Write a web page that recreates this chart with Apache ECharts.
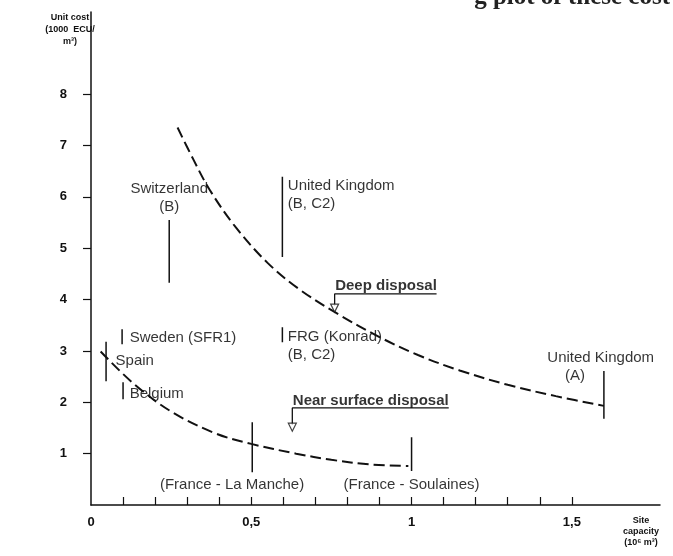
<!DOCTYPE html>
<html>
<head>
<meta charset="utf-8">
<script src="https://cdn.jsdelivr.net/npm/echarts@6/dist/echarts.min.js"></script>
<style>
html,body{margin:0;padding:0;background:#fff;}
#chart{width:673px;height:556px;}
</style>
</head>
<body>
<div id="chart"></div>
<script>
// ---- data ----
const xTickValues = [0.1,0.2,0.3,0.4,0.5,0.6,0.7,0.8,0.9,1.0,1.1,1.2,1.3,1.4,1.5];
const xLabelValues = [0, 0.5, 1, 1.5];
const yTickValues = [1,2,3,4,5,6,7,8];

const deepX = [0.27, 0.32, 0.37, 0.45, 0.55, 0.65, 0.77, 0.90, 1.02, 1.15, 1.30, 1.45, 1.60];
const deepY = [7.35, 6.72, 6.14, 5.42, 4.72, 4.20, 3.72, 3.27, 2.92, 2.62, 2.34, 2.12, 1.93];

const nearX = [0.03, 0.13, 0.25, 0.39, 0.50, 0.64, 0.75, 0.87, 0.99];
const nearY = [2.99, 2.38, 1.82, 1.39, 1.19, 1.00, 0.88, 0.79, 0.76];

const barX    = [0.244, 0.597, 0.597, 0.097, 0.047, 0.100, 0.503, 1.000, 1.600];
const barLow  = [4.33, 4.83, 3.17, 3.13, 2.41, 2.06, 0.64, 0.66, 1.68];
const barHigh = [5.55, 6.39, 3.46, 3.42, 3.18, 2.39, 1.61, 1.32, 2.61];

const leftLabelText = ['United Kingdom', '(B, C2)', 'FRG (Konrad)', '(B, C2)', 'Sweden (SFR1)', 'Spain', 'Belgium'];
const leftLabelX    = [0.6125, 0.6125, 0.6125, 0.6125, 0.119, 0.075, 0.119];
const leftLabelY    = [6.22, 5.87, 3.27, 2.92, 3.25, 2.80, 2.16];

const centerLabelText = ['Switzerland', '(B)', 'United Kingdom', '(A)', '(France - La Manche)', '(France - Soulaines)'];
const centerLabelX    = [0.244, 0.244, 1.59, 1.51, 0.44, 1.00];
const centerLabelY    = [6.16, 5.81, 2.86, 2.51, 0.39, 0.39];

const calloutText  = ['Deep disposal', 'Near surface disposal'];
const calloutX     = [0.76, 0.628];
const calloutY     = [4.27, 2.03];
const underlineEnd = [1.078, 1.116];
const underlineY   = [4.11, 1.89];
const arrowTipY    = [3.76, 1.44];

// ---- chart ----
const ink = '#111';
const chart = echarts.init(document.getElementById('chart'));
const series = [];

function linePair(xs, ys){ return xs.map((x,i)=>[x, ys[i]]); }

series.push({
  type:'line', data: linePair(deepX, deepY), smooth:0.35, showSymbol:false, silent:true,
  lineStyle:{color:ink, width:2, type:[11,5]}
});
series.push({
  type:'line', data: linePair(nearX, nearY), smooth:0.35, showSymbol:false, silent:true,
  lineStyle:{color:ink, width:2, type:[11,5]}
});
barX.forEach((x,i)=>{
  series.push({type:'line', data:[[x, barLow[i]],[x, barHigh[i]]], showSymbol:false, silent:true,
    lineStyle:{color:ink, width:1.5}});
});
calloutX.forEach((x,i)=>{
  series.push({type:'line', data:[[underlineEnd[i], underlineY[i]],[x, underlineY[i]],[x, arrowTipY[i]+0.12]],
    showSymbol:false, silent:true, lineStyle:{color:ink, width:1.3}});
});
series.push({
  type:'scatter', silent:true, symbol:'triangle', symbolRotate:180, symbolSize:[8,8],
  data: calloutX.map((x,i)=>[x, arrowTipY[i]+0.075]),
  itemStyle:{color:'#fff', borderColor:ink, borderWidth:1.2}, z:5
});
const labelFont = {fontFamily:'Liberation Sans, Arial, sans-serif', fontSize:15, color:'#000'};
series.push({
  type:'scatter', silent:true, symbolSize:1, itemStyle:{color:'rgba(0,0,0,0)'},
  data: leftLabelX.map((x,i)=>({value:[x, leftLabelY[i]], name:leftLabelText[i]})),
  label:Object.assign({show:true, position:'right', distance:0, formatter:p=>p.name}, labelFont)
});
series.push({
  type:'scatter', silent:true, symbolSize:1, itemStyle:{color:'rgba(0,0,0,0)'},
  data: centerLabelX.map((x,i)=>({value:[x, centerLabelY[i]], name:centerLabelText[i]})),
  label:Object.assign({show:true, position:'inside', formatter:p=>p.name}, labelFont)
});
series.push({
  type:'scatter', silent:true, symbolSize:1, itemStyle:{color:'rgba(0,0,0,0)'},
  data: calloutX.map((x,i)=>({value:[x, calloutY[i]], name:calloutText[i]})),
  label:Object.assign({show:true, position:'right', distance:0, formatter:p=>p.name}, labelFont,
    {fontWeight:'bold'})
});

chart.setOption({
  backgroundColor:'#fff',
  animation:false,
  grid:{left:91, right:13, top:12, bottom:51, containLabel:false},
  xAxis:{
    type:'value', min:0, max:1.775,
    axisLine:{lineStyle:{color:ink, width:1.5}},
    axisTick:{show:true, inside:true, length:8, customValues:xTickValues, lineStyle:{color:ink, width:1.2}},
    axisLabel:{customValues:xLabelValues, margin:11, color:ink, fontSize:13, fontWeight:'bold',
      fontFamily:'Liberation Sans, Arial, sans-serif',
      formatter:v=>String(v).replace('.', ',')},
    splitLine:{show:false}
  },
  yAxis:{
    type:'value', min:0, max:9.6,
    axisLine:{show:true, lineStyle:{color:ink, width:1.5}},
    axisTick:{show:true, inside:false, length:8, customValues:yTickValues, lineStyle:{color:ink, width:1.2}},
    axisLabel:{customValues:yTickValues, margin:24, color:ink, fontSize:13, fontWeight:'bold',
      fontFamily:'Liberation Sans, Arial, sans-serif'},
    splitLine:{show:false}
  },
  graphic:[
    {type:'text', x:70, y:12, style:{text:'Unit cost\n(1000  ECU/\nm³)', align:'center', verticalAlign:'top',
      font:'bold 9px Liberation Sans, Arial, sans-serif', lineHeight:12, fill:ink}},
    {type:'text', x:641, y:515, style:{text:'Site\ncapacity\n(10⁶ m³)', align:'center', verticalAlign:'top',
      font:'bold 9px Liberation Sans, Arial, sans-serif', lineHeight:11, fill:ink}},
    {type:'text', x:670, y:-15, style:{text:'g plot of these cost', align:'right', verticalAlign:'top',
      font:'bold 25px Liberation Serif, Times New Roman, serif', fill:'#222'}}
  ],
  series: series
});
</script>
</body>
</html>
